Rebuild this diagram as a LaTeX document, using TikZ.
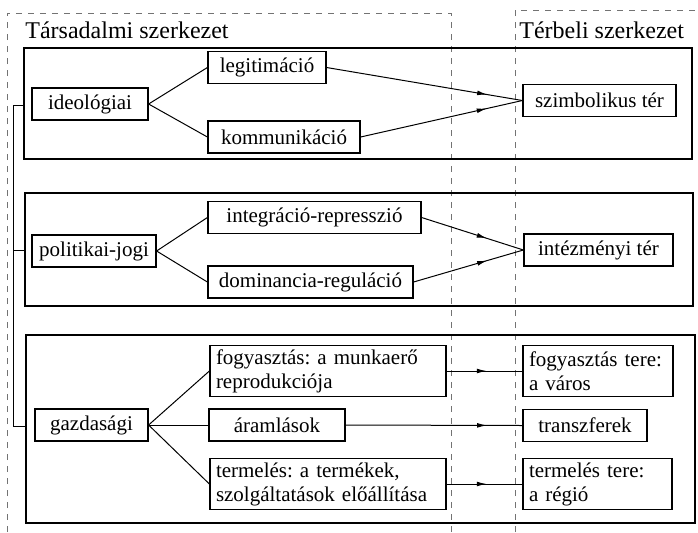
\documentclass[tikz,border=0pt]{standalone}
\usepackage{fontspec}
\setmainfont{Liberation Serif}
\usetikzlibrary{arrows.meta,decorations.markings}
\frenchspacing

\tikzset{
  box/.style={draw, line width=0.6pt, inner sep=0pt, minimum width=#1*0.5pt,
    minimum height=16pt, font=\fontsize{10.5}{12}\selectfont},
  wbox/.style={draw, line width=0.6pt, inner xsep=3pt, inner ysep=0pt,
    text width=#1*0.5pt-6pt, minimum height=25.5pt, align=left,
    font=\fontsize{10.5}{12}\selectfont},
  panel/.style={draw, line width=0.7pt},
  frame/.style={draw=black!55, dash pattern=on 3pt off 3pt, line width=0.5pt},
  heading/.style={anchor=west, inner sep=0pt, font=\fontsize{12}{14}\selectfont},
  link/.style={line width=0.5pt},
  midtip/.style={link, postaction={decorate},
    decoration={markings, mark=at position #1 with {\arrow{Latex[length=5pt,width=2.4pt]}}}},
}

\begin{document}
\begin{tikzpicture}[x=0.5pt,y=-0.5pt]
  \useasboundingbox (0,0) rectangle (698,532);

  % dashed frames of the two halves
  \draw[frame] (7,532) -- (7,13) -- (451,13) -- (451,532);
  \draw[frame] (515,532) -- (515,10) -- (698,10);
  \node[heading] (tarsadalmi) at (25,30) {Társadalmi szerkezet};
  \node[heading] (terbeli) at (519,30) {Térbeli szerkezet};

  % the three panels
  \draw[panel] (24,48) rectangle (692,159);
  \draw[panel] (25,193) rectangle (693,306);
  \draw[panel] (26,335) rectangle (695,523);

  % left bracket joining the panels
  \coordinate (p1) at (24,105);
  \coordinate (p2) at (25,250);
  \coordinate (p3) at (26,426);
  \draw[link] (p1) -- ++(-11,0) |- (p3);
  \draw[link] (p2) -- ++(-12,0);

  % ideologiai
  \node[box=116] (ideo) at (90,104) {ideológiai};
  \node[box=118] (legit) at (267,67.5) {legitimáció};
  \node[box=152] (komm) at (284,137) {kommunikáció};
  \node[box=153] (szimb) at (599.5,100.5) {szimbolikus tér};

  \draw[link] (ideo.east) -- (legit.west);
  \draw[link] (ideo.east) -- (komm.west);
  \draw[midtip=0.82] (legit.east) -- (szimb.west);
  \draw[midtip=0.78] (komm.east) -- (szimb.west);

  % politikai-jogi
  \node[box=124] (polit) at (94,251) {politikai-jogi};
  \node[box=213] (integr) at (314.5,217.5) {integráció-represszió};
  \node[box=205] (domin) at (310.5,282) {dominancia-reguláció};
  \node[box=149] (intez) at (598.5,250) {intézményi tér};

  \draw[link] (polit.east) -- (integr.west);
  \draw[link] (polit.east) -- (domin.west);
  \draw[midtip=0.64] (integr.east) -- (intez.west);
  \draw[midtip=0.67] (domin.east) -- (intez.west);

  % gazdasagi
  \node[box=113] (gazd) at (91.5,425) {gazdasági};
  \node[wbox=236] (fogy) at (328,371) {fogyasztás: a munkaerő\\reprodukciója};
  \node[box=136] (araml) at (277,425) {áramlások};
  \node[wbox=236] (term) at (328,484) {termelés: a termékek,\\szolgáltatások előállítása};
  \node[wbox=150] (fogyt) at (598,371) {fogyasztás tere:\\a város};
  \node[box=124] (transz) at (585,425.5) {transzferek};
  \node[wbox=149] (termt) at (597.5,484) {termelés tere:\\a régió};

  \draw[link] (gazd.east) -- (fogy.west);
  \draw[link] (gazd.east) -- (araml.west);
  \draw[link] (gazd.east) -- (term.west);
  \draw[midtip=0.53] (fogy.east) -- (fogyt.west);
  \draw[midtip=0.80] (araml.east) -- (transz.west);
  \draw[midtip=0.53] (term.east) -- (termt.west);
\end{tikzpicture}
\end{document}
